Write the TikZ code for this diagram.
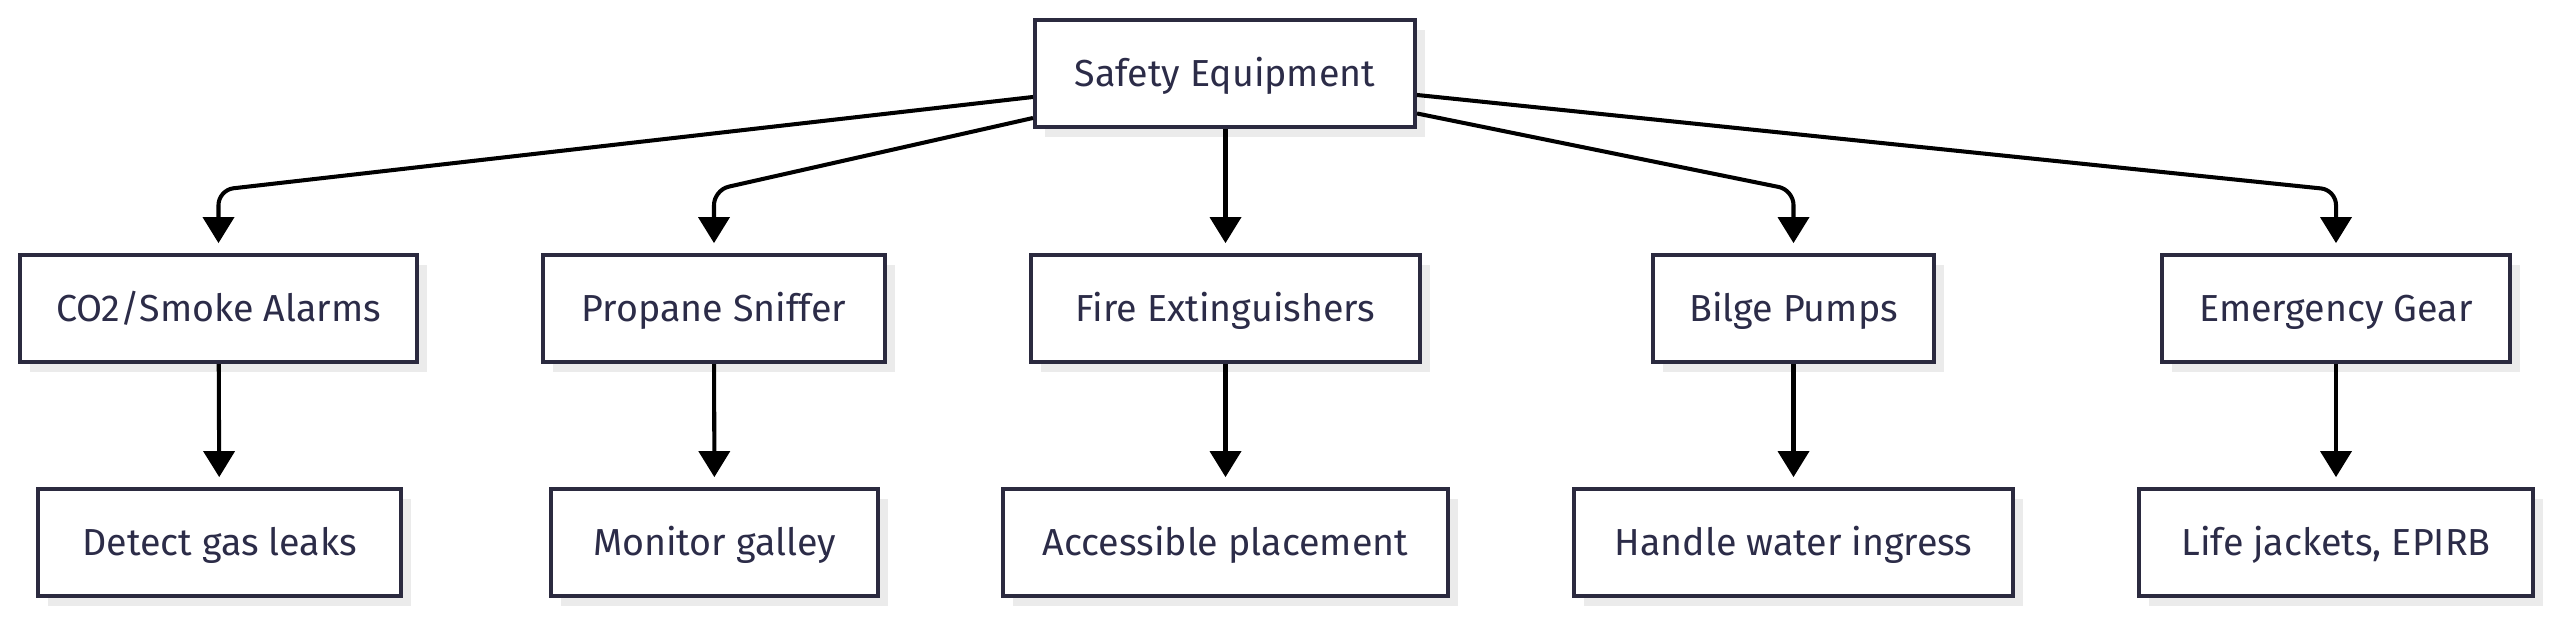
\documentclass[tikz,border=0pt]{standalone}
\usepackage{fontspec}
\setmainfont{Fira Sans}
\usetikzlibrary{arrows.meta,shadows}

\definecolor{rand}{HTML}{2B2A3F}
\definecolor{schrift}{HTML}{2C2C48}
\definecolor{schatten}{HTML}{EBEBEB}

\tikzset{
	kasten/.style={draw=rand, line width=1.15pt, fill=white, text=schrift,
		minimum height=1.07cm, inner sep=0pt, text height=7.3pt, text depth=0pt,
		font=\fontsize{10.7}{13}\selectfont,
		drop shadow={shadow xshift=0.1cm, shadow yshift=-0.1cm, fill=schatten, opacity=1}},
	pfeil/.style={line width=1.15pt, rounded corners=0.15cm, shorten >=2.8pt,
		-{Triangle[length=7.4pt,width=8.8pt]}}
}

\begin{document}
\begin{tikzpicture}
		
		\useasboundingbox (0,0) rectangle (25.6,-6.19);
		
		% Wurzel
		\node[kasten, minimum width=3.80cm] (sicherheit) at (12.25,-0.735) {Safety Equipment};
		
		% Zweite Ebene
		\node[kasten, minimum width=3.97cm] (alarm) at (2.185,-3.085) {CO2/Smoke Alarms};
		\node[kasten, minimum width=3.42cm] (propan) at (7.14,-3.085) {Propane Sniffer};
		\node[kasten, minimum width=3.89cm] (feuer) at (12.255,-3.085) {Fire Extinguishers};
		\node[kasten, minimum width=2.81cm] (bilge) at (17.935,-3.085) {Bilge Pumps};
		\node[kasten, minimum width=3.48cm] (notfall) at (23.36,-3.085) {Emergency Gear};
		
		% Blaetter
		\node[kasten, minimum width=3.63cm] (gas) at (2.195,-5.425) {Detect gas leaks};
		\node[kasten, minimum width=3.27cm] (kombuese) at (7.145,-5.425) {Monitor galley};
		\node[kasten, minimum width=4.45cm] (platz) at (12.255,-5.425) {Accessible placement};
		\node[kasten, minimum width=4.39cm] (wasser) at (17.935,-5.425) {Handle water ingress};
		\node[kasten, minimum width=3.94cm] (westen) at (23.36,-5.425) {Life jackets, EPIRB};
		
		% Knickhoehe
		\coordinate (knick) at (0,-1.9);
		
		% Verbindungen von der Wurzel
		\draw[pfeil] ([yshift=-0.235cm]sicherheit.west) -- (alarm.north |- knick) -- (alarm.north);
		\draw[pfeil] ([yshift=-0.445cm]sicherheit.west) -- (propan.north |- knick) -- (propan.north);
		\draw[pfeil] (sicherheit.south -| feuer.north) -- (feuer.north);
		\draw[pfeil] ([yshift=-0.40cm]sicherheit.east) -- (bilge.north |- knick) -- (bilge.north);
		\draw[pfeil] ([yshift=-0.215cm]sicherheit.east) -- (notfall.north |- knick) -- (notfall.north);
		
		% Verbindungen zu den Blaettern
		\draw[pfeil] (alarm) -- (gas);
		\draw[pfeil] (propan) -- (kombuese);
		\draw[pfeil] (feuer) -- (platz);
		\draw[pfeil] (bilge) -- (wasser);
		\draw[pfeil] (notfall) -- (westen);
		
	\end{tikzpicture}
\end{document}
